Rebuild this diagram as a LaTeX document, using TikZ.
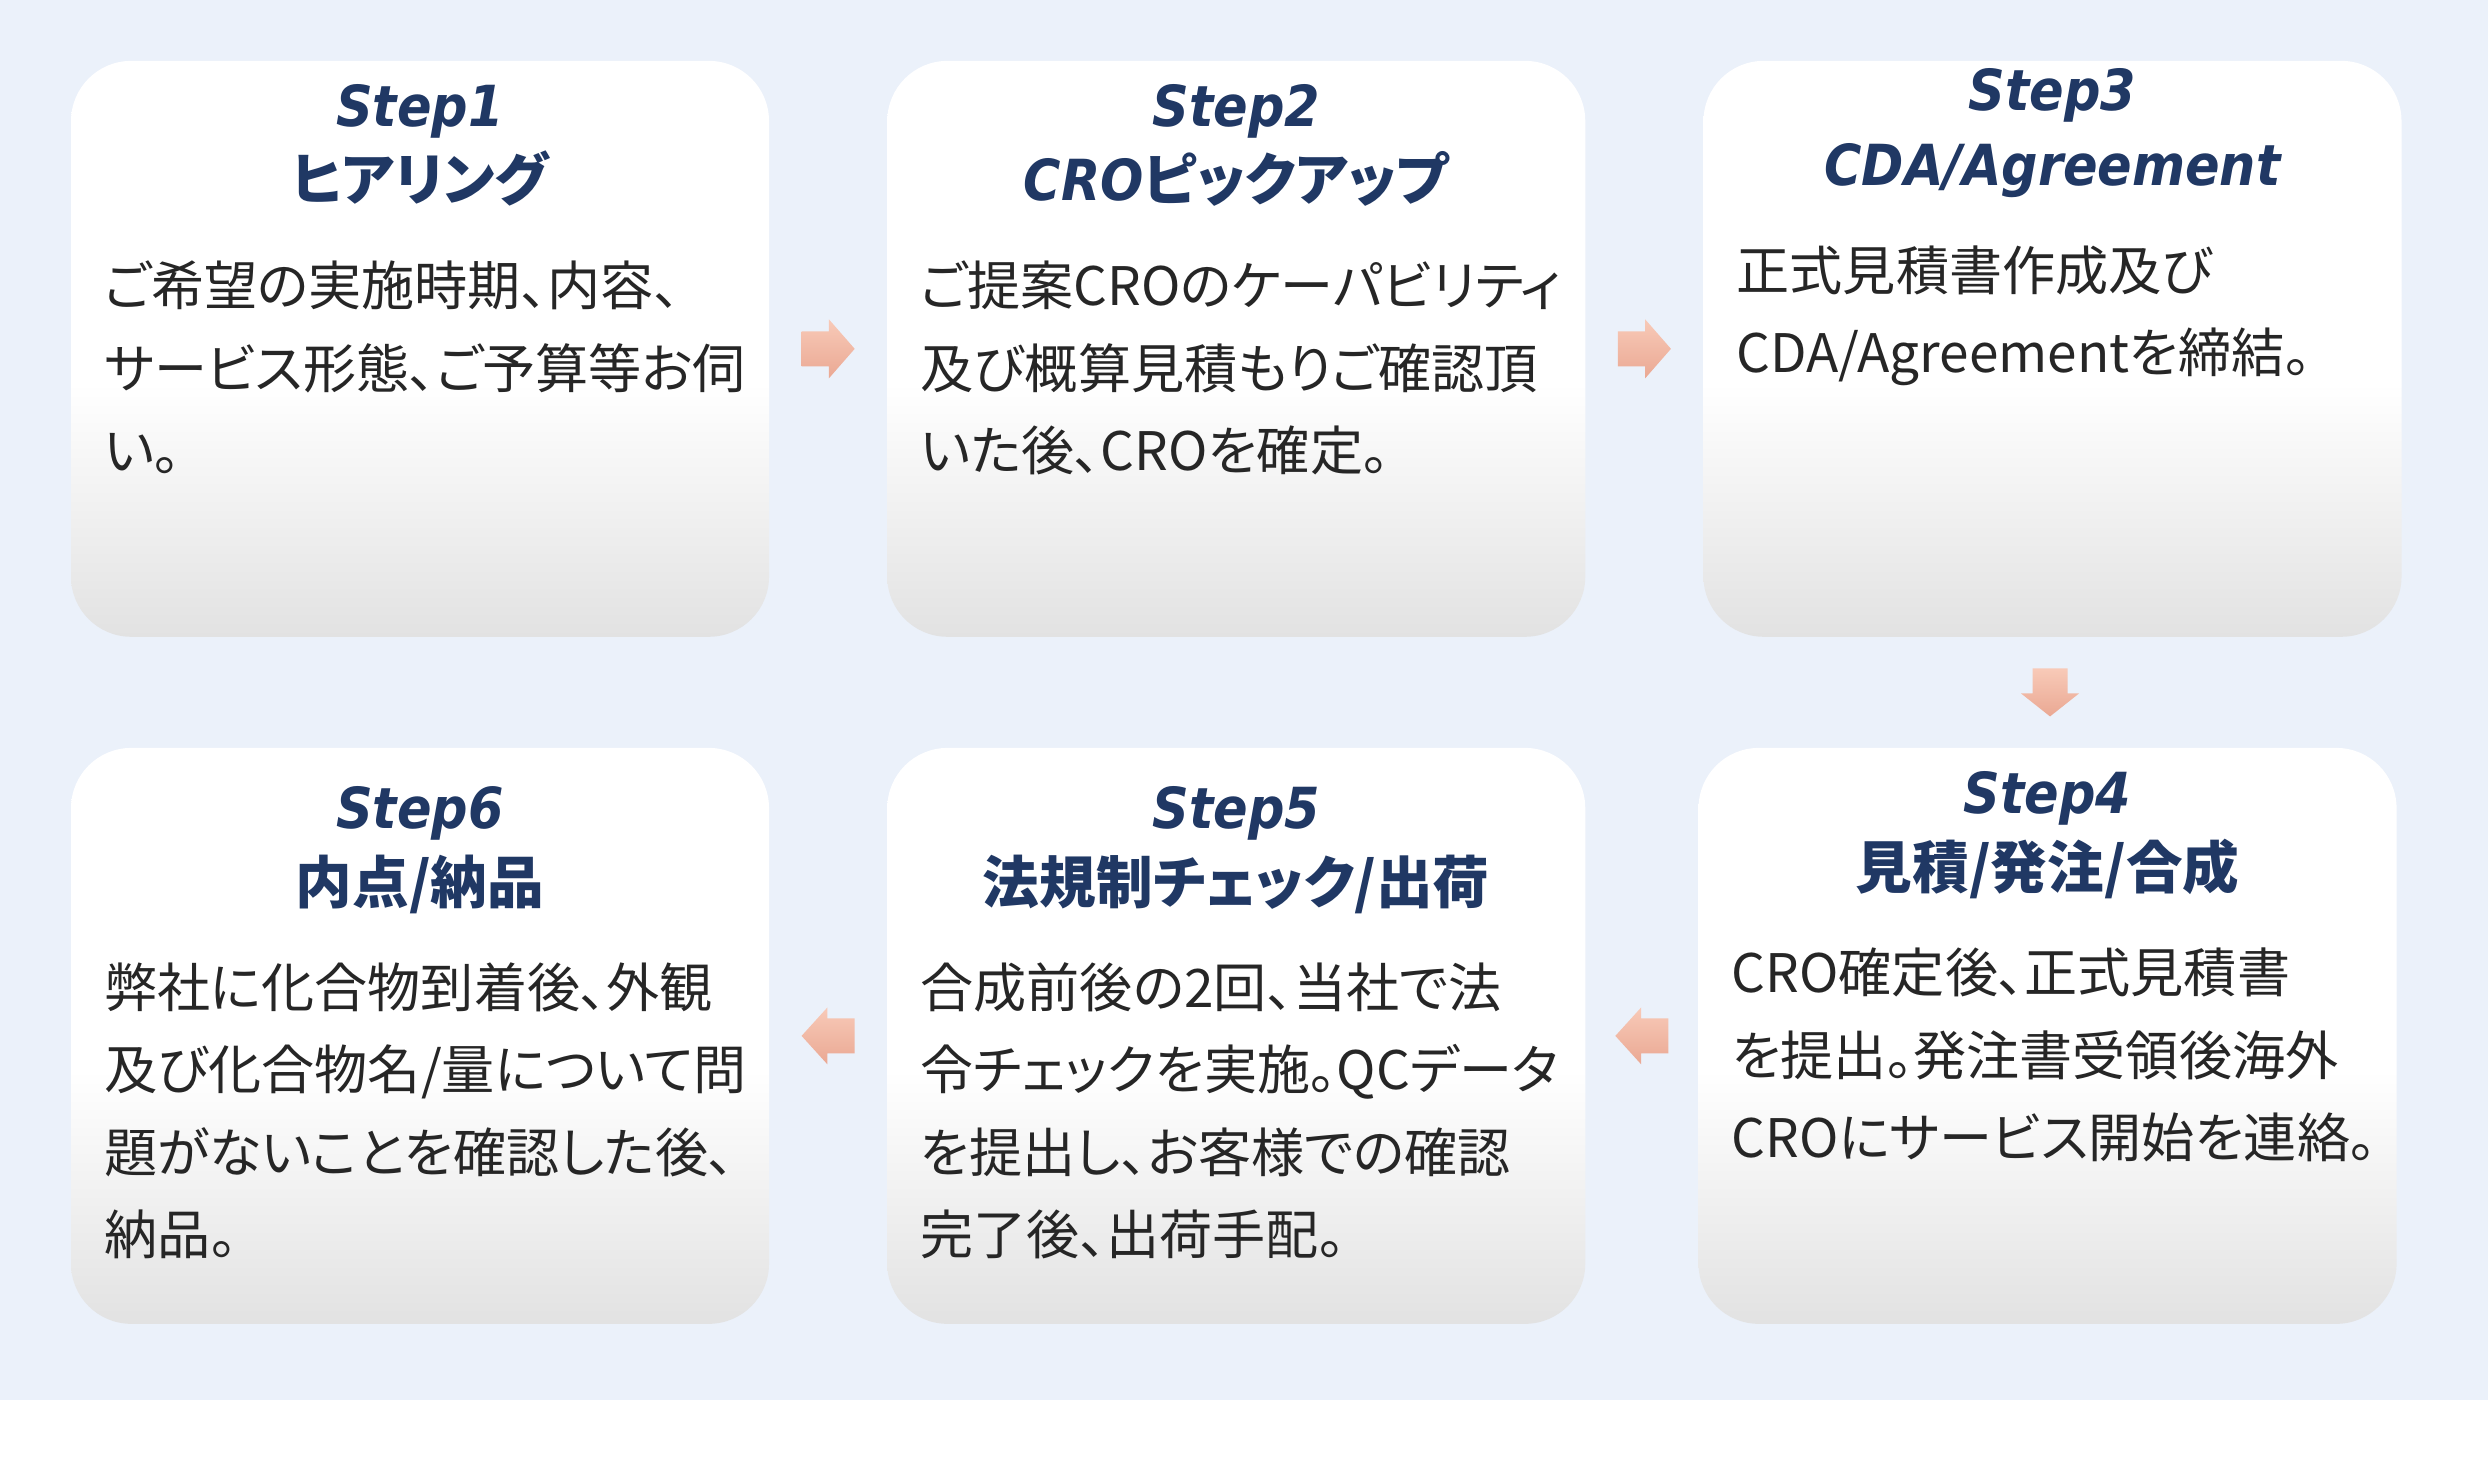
\documentclass[tikz,border=0pt]{standalone}
\usepackage{fontspec}
\setmainfont{Noto Sans CJK JP}[RawFeature=+palt]
\newfontfamily\titlelatin{DejaVu Sans}[FakeStretch=0.9]
\usepackage{tikz}
\usetikzlibrary{positioning, calc}

\definecolor{bgblue}{HTML}{EBF1FA}
\definecolor{navy}{HTML}{203864}
\definecolor{bodytext}{HTML}{262626}
\definecolor{boxgray}{HTML}{E2E2E2}
\definecolor{arrtop}{HTML}{F8CAB8}
\definecolor{arrbot}{HTML}{EAA893}

\pgfdeclareverticalshading{boxshade}{100bp}{color(0bp)=(boxgray); color(25bp)=(boxgray); color(47bp)=(white); color(100bp)=(white)}

\newcommand{\steplat}[1]{{\titlelatin\bfseries\itshape #1}}

\begin{document}
\begin{tikzpicture}[x=1pt, y=1pt,
box/.style={rectangle, rounded corners=17pt, minimum width=197.2pt, minimum height=162.7pt, inner sep=0pt, shade, shading=boxshade},
head/.style={anchor=north, align=center, inner sep=0pt, text=navy, font=\fontsize{16}{21}\selectfont\bfseries},
body/.style={anchor=north west, align=left, inner sep=0pt, text=bodytext, font=\fontsize{15}{23.3}\selectfont},
arr/.style={top color=arrtop, bottom color=arrbot}
]
\useasboundingbox (0,0) rectangle (702.9,416.1);
\fill[white] (0,0) rectangle (702.9,416.1);
\fill[bgblue] (0,20.6) rectangle (702.9,416.1);

% boxes
\node[box] (s1) at (118.66,317.55) {};
\node[box, right=33pt of s1] (s2) {};
\node[box, right=33pt of s2] (s3) {};
\node[box, below=31pt of s1] (s6) {};
\node[box, right=33pt of s6] (s5) {};
\node[box, right=31.6pt of s5] (s4) {};

% titles
\node[head] (h1) at ([yshift=-6.7pt]s1.north) {\steplat{Step1}\\ヒアリング};
\node[head] (h2) at ([yshift=-6.7pt]s2.north) {\steplat{Step2}\\\steplat{CRO}ピックアップ};
\node[head] (h3) at ([yshift=-2.2pt]s3.north) {\steplat{Step3}\\\steplat{CDA/Agreement}};
\node[head] (h4) at ([yshift=-6.7pt]s4.north) {\steplat{Step4}\\見積/発注/合成};
\node[head] (h5) at ([yshift=-11pt]s5.north) {\steplat{Step5}\\法規制チェック/出荷};
\node[head] (h6) at ([yshift=-11pt]s6.north) {\steplat{Step6}\\内点/納品};

% texts
\node[body] (b1) at ([xshift=9.4pt, yshift=-56.6pt]s1.north west) {ご希望の実施時期、内容、\\サービス形態、ご予算等お伺\\い。};
\node[body] (b2) at ([xshift=9.4pt, yshift=-56.6pt]s2.north west) {ご提案CROのケーパビリティ\\及び概算見積もりご確認頂\\いた後、CROを確定。};
\node[body] (b3) at ([xshift=9.4pt, yshift=-52.1pt]s3.north west) {正式見積書作成及び\\CDA/Agreementを締結。};
\node[body] (b4) at ([xshift=9.4pt, yshift=-56.6pt]s4.north west) {CRO確定後、正式見積書\\を提出。発注書受領後海外\\CROにサービス開始を連絡。};
\node[body] (b5) at ([xshift=9.4pt, yshift=-60.6pt]s5.north west) {合成前後の2回、当社で法\\令チェックを実施。QCデータ\\を提出し、お客様での確認\\完了後、出荷手配。};
\node[body] (b6) at ([xshift=9.4pt, yshift=-60.6pt]s6.north west) {弊社に化合物到着後、外観\\及び化合物名/量について問\\題がないことを確認した後、\\納品。};

% arrows
\coordinate (a12) at ($(s1.east)!0.5!(s2.west)$);
\coordinate (a23) at ($(s2.east)!0.5!(s3.west)$);
\coordinate (a34) at ($(s3.south)!0.5!(s4.north)$);
\coordinate (a45) at ($(s4.west)!0.5!(s5.east)$);
\coordinate (a56) at ($(s5.west)!0.5!(s6.east)$);
\shade[arr, shift={(a12)}] (-7.5,-4.95) -- (0.2,-4.95) -- (0.2,-8.35) -- (7.5,0) -- (0.2,8.35) -- (0.2,4.95) -- (-7.5,4.95) -- cycle;
\shade[arr, shift={(a23)}] (-7.5,-4.95) -- (0.2,-4.95) -- (0.2,-8.35) -- (7.5,0) -- (0.2,8.35) -- (0.2,4.95) -- (-7.5,4.95) -- cycle;
\shade[arr, shift={(a34)}] (-4.95,6.8) -- (4.95,6.8) -- (4.95,-0.3) -- (8.2,-0.3) -- (0,-6.8) -- (-8.2,-0.3) -- (-4.95,-0.3) -- cycle;
\shade[arr, shift={(a45)}] (7.5,-4.95) -- (-0.2,-4.95) -- (-0.2,-8.05) -- (-7.5,0) -- (-0.2,8.05) -- (-0.2,4.95) -- (7.5,4.95) -- cycle;
\shade[arr, shift={(a56)}] (7.5,-4.95) -- (-0.2,-4.95) -- (-0.2,-8.05) -- (-7.5,0) -- (-0.2,8.05) -- (-0.2,4.95) -- (7.5,4.95) -- cycle;
\end{tikzpicture}
\end{document}
